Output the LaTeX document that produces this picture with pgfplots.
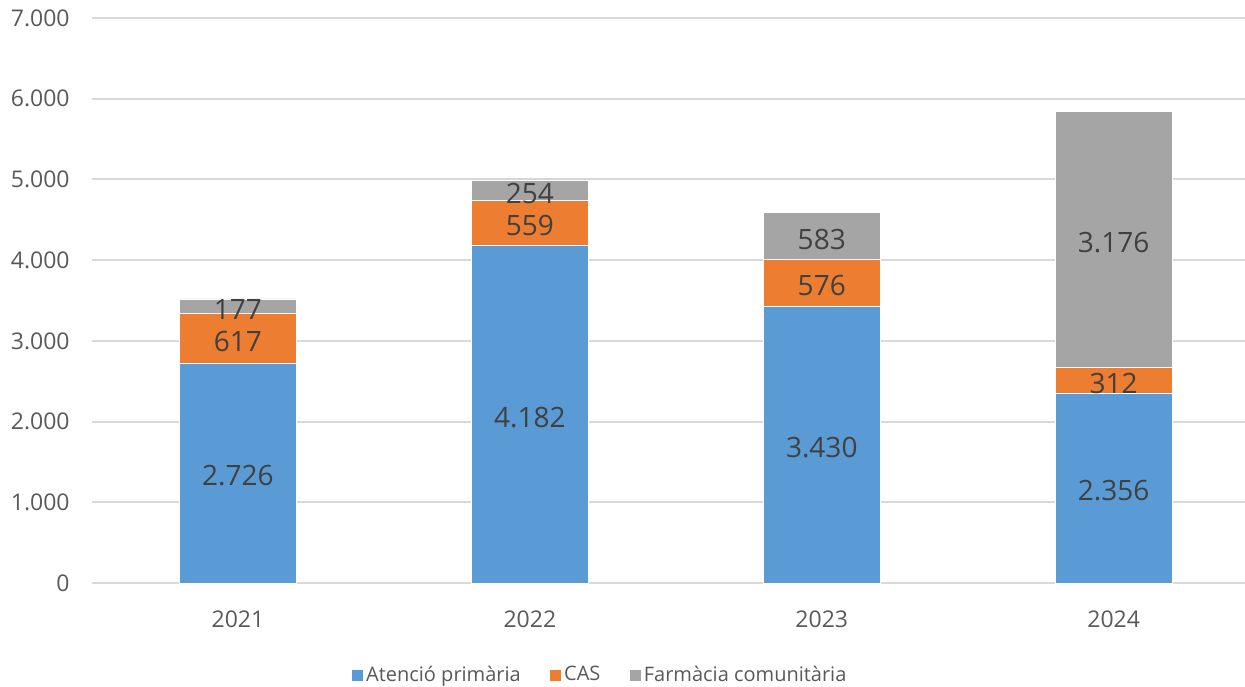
\documentclass[border=0pt]{standalone}
\usepackage{pgfplots}
\pgfplotsset{compat=1.18}
\usepackage{fontspec}
\setmainfont{Open Sans}
\definecolor{cblue}{HTML}{5B9BD5}
\definecolor{corange}{HTML}{ED7D31}
\definecolor{cgray}{HTML}{A5A5A5}
\definecolor{lbl}{HTML}{404040}
\definecolor{ticktext}{HTML}{595959}
\definecolor{gridc}{HTML}{D9D9D9}
\pgfplotsset{
  common/.style={
    at={(0,0)}, anchor=south west,
    scale only axis, width=576.5pt, height=282.5pt,
    xmin=-0.5, xmax=3.45, ymin=0, ymax=7000,
    clip=false,
    /pgf/number format/1000 sep={.},
    /pgf/number format/assume math mode=true,
  }
}
\begin{document}
\begin{tikzpicture}
\begin{axis}[
  common,
  ybar stacked, bar width=0.4,
  xtick={0,1,2,3}, xticklabels={2021,2022,2023,2024},
  ytick={0,1000,...,7000},
  ymajorgrids, grid style={draw=gridc, line width=1pt},
  axis line style={draw=none},
  major tick length=0pt,
  yticklabel style={font=\fontsize{11.5}{13}\selectfont, text=ticktext, inner sep=0pt, anchor=east, xshift=-11pt},
  xticklabel style={font=\fontsize{11.5}{13}\selectfont, text=ticktext, inner sep=0pt, anchor=north, yshift=-13.5pt},
  legend style={at={(0.4406,-0.163)}, anchor=center, draw=none, legend columns=3,
    font=\fontsize{10}{12}\selectfont, text=ticktext, inner sep=0pt,
    nodes={inner sep=1.3pt},
    /tikz/every even column/.append style={column sep=12.8pt}},
  legend image code/.code={\fill[#1] (0pt,-3.1pt) rectangle (6pt,3.1pt);},
]
\addplot[fill=cblue, draw=white, line width=0.3pt] coordinates {(0,2726) (1,4182) (2,3430) (3,2356)};
\addplot[fill=corange, draw=white, line width=0.3pt] coordinates {(0,617) (1,559) (2,576) (3,312)};
\addplot[fill=cgray, draw=white, line width=0.3pt] coordinates {(0,177) (1,254) (2,583) (3,3176)};
\legend{Atenció primària, CAS, Farmàcia comunitària}
\end{axis}
\begin{axis}[
  common, hide axis,
  nodes near coords, point meta=explicit,
  every node near coord/.append style={anchor=center, yshift=-1.5pt, font=\fontsize{14}{16}\selectfont, text=lbl, inner sep=0pt},
]
\addplot[draw=none, mark=none] coordinates {(0,1363)[2726] (1,2091)[4182] (2,1715)[3430] (3,1178)[2356]};
\addplot[draw=none, mark=none] coordinates {(0,3034.5)[617] (1,4461.5)[559] (2,3718)[576] (3,2512)[312]};
\addplot[draw=none, mark=none] coordinates {(0,3431.5)[177] (1,4868)[254] (2,4297.5)[583] (3,4256)[3176]};
\end{axis}
\pgfresetboundingbox
\useasboundingbox (-46pt,-51.5pt) rectangle (576.5pt,291.5pt);
\end{tikzpicture}
\end{document}
